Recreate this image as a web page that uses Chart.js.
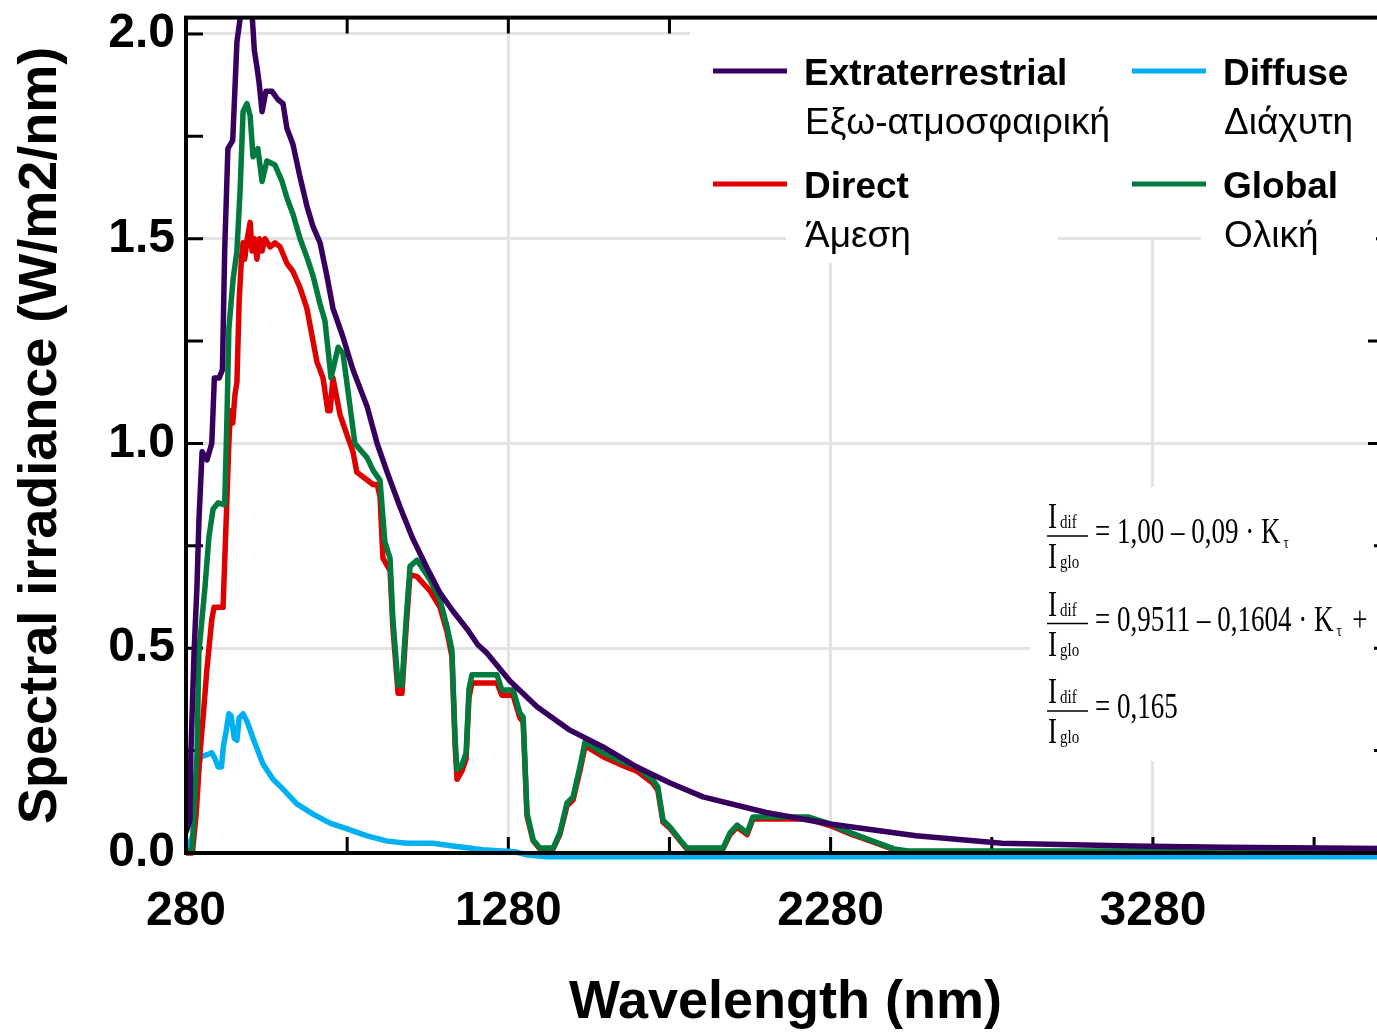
<!DOCTYPE html>
<html>
<head>
<meta charset="utf-8">
<title>Spectral irradiance</title>
<script src="https://cdn.jsdelivr.net/npm/chart.js@4.4.1/dist/chart.umd.min.js"></script>
<style>
  html, body { margin: 0; padding: 0; background: #fff; overflow: hidden; }
  #wrap { position: relative; width: 1390px; height: 1032px; }
</style>
</head>
<body>
<div id="wrap"><canvas id="spectrum-chart"></canvas></div>
<script>
/* Spectral irradiance: extraterrestrial, direct, diffuse, global */

// wavelength (nm) / irradiance (W/m2/nm)
const wlExtra  = [280, 292, 295, 305, 314, 320, 330, 345, 360, 368, 383, 393, 400, 410, 425, 438, 450, 485, 492, 500, 507, 516, 528, 547, 565, 581, 593, 612, 634, 655, 674, 696, 717, 736, 767, 798, 842, 873, 904, 944, 984, 1028, 1068, 1108, 1152, 1186, 1214, 1285, 1369, 1471, 1574, 1679, 1782, 1884, 2080, 2278, 2545, 2812, 3215, 3500, 4000];
const irrExtra = [0.05, 0.08, 0.24, 0.49, 0.65, 0.81, 0.98, 0.96, 1.00, 1.16, 1.16, 1.18, 1.47, 1.72, 1.74, 1.98, 2.05, 2.05, 1.96, 1.92, 1.88, 1.81, 1.86, 1.86, 1.84, 1.83, 1.77, 1.73, 1.65, 1.58, 1.53, 1.49, 1.41, 1.33, 1.26, 1.18, 1.09, 1.00, 0.93, 0.845, 0.767, 0.696, 0.635, 0.591, 0.547, 0.508, 0.488, 0.42, 0.357, 0.30, 0.259, 0.21, 0.171, 0.137, 0.099, 0.071, 0.042, 0.024, 0.017, 0.014, 0.011];

const wlGlobal  = [280, 299, 314, 320, 339, 351, 364, 380, 400, 407, 413, 426, 438, 448, 457, 469, 479, 488, 503, 516, 531, 556, 578, 593, 612, 634, 655, 674, 696, 711, 730, 752, 767, 789, 804, 820, 842, 860, 882, 897, 913, 922, 938, 950, 963, 975, 997, 1037, 1068, 1090, 1105, 1115, 1121, 1136, 1149, 1158, 1167, 1208, 1245, 1260, 1295, 1316, 1326, 1338, 1357, 1378, 1419, 1440, 1462, 1481, 1502, 1518, 1533, 1574, 1636, 1679, 1729, 1744, 1760, 1782, 1813, 1834, 1946, 1968, 1990, 2021, 2039, 2076, 2210, 2278, 2343, 2411, 2477, 2520, 4000];
const irrGlobal = [0.0, 0.01, 0.24, 0.49, 0.65, 0.77, 0.84, 0.855, 0.85, 1.06, 1.28, 1.40, 1.47, 1.62, 1.81, 1.83, 1.80, 1.70, 1.72, 1.64, 1.69, 1.68, 1.64, 1.60, 1.56, 1.50, 1.455, 1.41, 1.34, 1.30, 1.16, 1.235, 1.22, 1.09, 1.00, 0.985, 0.965, 0.935, 0.91, 0.76, 0.72, 0.57, 0.41, 0.41, 0.57, 0.70, 0.715, 0.667, 0.618, 0.552, 0.496, 0.276, 0.203, 0.215, 0.244, 0.40, 0.435, 0.435, 0.435, 0.398, 0.398, 0.342, 0.332, 0.098, 0.032, 0.012, 0.012, 0.049, 0.122, 0.137, 0.21, 0.271, 0.264, 0.244, 0.222, 0.21, 0.178, 0.161, 0.08, 0.063, 0.032, 0.012, 0.012, 0.049, 0.068, 0.049, 0.088, 0.088, 0.088, 0.071, 0.049, 0.029, 0.01, 0.005, 0.005];

const wlDirect  = [280, 300, 312, 323, 333, 345, 360, 367, 395, 405, 413, 418, 425, 432, 438, 445, 452, 457, 462, 470, 479, 485, 492, 500, 508, 516, 525, 541, 556, 572, 593, 612, 634, 655, 674, 686, 705, 720, 727, 736, 758, 780, 798, 810, 860, 873, 882, 891, 913, 922, 938, 950, 963, 975, 997, 1037, 1068, 1090, 1105, 1115, 1121, 1136, 1149, 1158, 1167, 1245, 1260, 1295, 1316, 1326, 1338, 1357, 1378, 1419, 1440, 1462, 1481, 1502, 1518, 1533, 1574, 1636, 1679, 1729, 1744, 1760, 1782, 1813, 1834, 1946, 1968, 1990, 2021, 2039, 2076, 2210, 2278, 2343, 2411, 2477, 2520, 4000];
const irrDirect = [0.0, 0.0, 0.10, 0.24, 0.33, 0.45, 0.57, 0.60, 0.60, 0.82, 1.00, 1.08, 1.05, 1.12, 1.15, 1.35, 1.45, 1.49, 1.45, 1.50, 1.54, 1.47, 1.50, 1.45, 1.50, 1.47, 1.50, 1.48, 1.49, 1.48, 1.44, 1.42, 1.38, 1.33, 1.25, 1.20, 1.16, 1.08, 1.08, 1.16, 1.07, 1.02, 0.98, 0.93, 0.90, 0.90, 0.87, 0.72, 0.69, 0.55, 0.39, 0.39, 0.55, 0.68, 0.675, 0.64, 0.60, 0.54, 0.48, 0.26, 0.18, 0.20, 0.23, 0.38, 0.415, 0.415, 0.385, 0.385, 0.33, 0.32, 0.09, 0.03, 0.01, 0.01, 0.045, 0.115, 0.13, 0.20, 0.26, 0.255, 0.235, 0.213, 0.20, 0.17, 0.153, 0.075, 0.06, 0.03, 0.01, 0.01, 0.045, 0.063, 0.045, 0.083, 0.083, 0.083, 0.067, 0.046, 0.027, 0.008, 0.003, 0.003];

const wlDiffuse  = [280, 305, 318, 325, 345, 360, 370, 380, 390, 396, 405, 413, 420, 430, 438, 445, 457, 470, 488, 519, 550, 581, 624, 674, 727, 780, 842, 904, 966, 1046, 1108, 1200, 1300, 1340, 1400, 4000];
const irrDiffuse = [0.0, 0.05, 0.20, 0.235, 0.24, 0.245, 0.23, 0.21, 0.21, 0.26, 0.30, 0.34, 0.335, 0.28, 0.275, 0.33, 0.34, 0.32, 0.28, 0.217, 0.18, 0.156, 0.12, 0.095, 0.073, 0.059, 0.042, 0.029, 0.024, 0.024, 0.017, 0.008, 0.003, -0.005, -0.009, -0.009];

// axes
const xTicks = [280, 780, 1280, 1780, 2280, 2780, 3280, 3780];
const xMajor = [280, 1280, 2280, 3280];
const yTicks = [0, 0.25, 0.5, 0.75, 1.0, 1.25, 1.5, 1.75, 2.0];
const yMajor = [0, 0.5, 1.0, 1.5, 2.0];

// legend
const seriesNames = ['Extraterrestrial', 'Diffuse', 'Direct', 'Global'];
const seriesGreek = ['Εξω-ατμοσφαιρική', 'Διάχυτη', 'Άμεση', 'Ολική'];
const seriesColors = ['#37005f', '#00b0f0', '#e00000', '#007a3d'];

// inset formulas  I_dif / I_glo = ...
const formulaRhs = ['= 1,00 – 0,09 · K', '= 0,9511 – 0,1604 · K', '= 0,165'];
const formulaTau = [true, true, false];
const formulaTail = ['', ' +', ''];

const SANS = "'Liberation Sans', Arial, sans-serif";
const SERIF = "'Liberation Serif', 'Times New Roman', serif";

// legend box covers the frame ticks up there
const LEGEND_BOX = { left: 690, top: 19, right: 1390, bottom: 237 };

function pts(xs, ys) {
  return xs.map((x, i) => ({ x, y: ys[i] }));
}

function lineSet(label, xs, ys, color) {
  return {
    label,
    data: pts(xs, ys),
    borderColor: color,
    backgroundColor: color,
    borderWidth: 5.5,
    pointRadius: 0,
    tension: 0,
    borderJoinStyle: 'round',
    clip: { left: 0, top: 0, right: 0, bottom: 8 }
  };
}

// inward ticks, then white boxes with legend and formulas over the grid
const insetPlugin = {
  id: 'insets',
  beforeDatasetsDraw(chart) {
    const { ctx, chartArea: a, scales } = chart;
    ctx.save();

    ctx.strokeStyle = '#000';
    ctx.lineWidth = 3;
    ctx.beginPath();
    xTicks.forEach(v => {
      const x = scales.x.getPixelForValue(v);
      ctx.moveTo(x, a.bottom); ctx.lineTo(x, a.bottom - 16);
      ctx.moveTo(x, a.top); ctx.lineTo(x, a.top + 16);
    });
    yTicks.forEach(v => {
      const y = scales.y.getPixelForValue(v);
      ctx.moveTo(a.left, y); ctx.lineTo(a.left + 17, y);
      ctx.moveTo(a.right, y); ctx.lineTo(a.right - 17, y);
    });
    ctx.stroke();

    ctx.fillStyle = '#fff';
    const b = LEGEND_BOX;
    ctx.fillRect(b.left, b.top, b.right - b.left, b.bottom - b.top);
    ctx.fillRect(786, 200, 272, 63);
    ctx.fillRect(1201, 200, 175, 63);
    ctx.fillRect(1030, 487, 344, 274);

    // legend
    const cols = [713, 1132];
    const rows = [71, 184];
    ctx.textAlign = 'left';
    ctx.textBaseline = 'alphabetic';
    seriesNames.forEach((name, i) => {
      const x = cols[i % 2];
      const y = rows[Math.floor(i / 2)];
      ctx.strokeStyle = seriesColors[i];
      ctx.lineWidth = 5;
      ctx.beginPath();
      ctx.moveTo(x, y);
      ctx.lineTo(x + 74, y);
      ctx.stroke();
      ctx.fillStyle = '#000';
      ctx.font = 'bold 37px ' + SANS;
      ctx.fillText(name, x + 91, y + 14);
      ctx.font = '37px ' + SANS;
      ctx.fillText(seriesGreek[i], x + 92, y + 63);
    });

    // formulas
    const txt = (s, x, y, size) => {
      ctx.save();
      ctx.translate(x, y);
      ctx.scale(1, 1.32);
      ctx.font = size + 'px ' + SERIF;
      ctx.fillText(s, 0, 0);
      ctx.restore();
    };
    formulaRhs.forEach((rhs, i) => {
      const bar = 536 + i * 87.5;
      ctx.fillStyle = '#000';
      ctx.strokeStyle = '#000';
      ctx.lineWidth = 1.5;
      ctx.beginPath();
      ctx.moveTo(1047, bar);
      ctx.lineTo(1088, bar);
      ctx.stroke();
      txt('I', 1048, bar - 8, 27);
      txt('dif', 1060, bar - 8, 15);
      txt('I', 1048, bar + 32, 27);
      txt('glo', 1060, bar + 32, 15);
      txt(rhs, 1095, bar + 7, 27);
      ctx.font = '27px ' + SERIF;
      let x = 1095 + ctx.measureText(rhs).width;
      if (formulaTau[i]) {
        txt('τ', x + 3, bar + 12, 13);
        x += 12;
      }
      if (formulaTail[i]) txt(formulaTail[i], x, bar + 7, 27);
    });
    ctx.restore();
  }
};

// black frame on top of everything
const framePlugin = {
  id: 'frame',
  afterDatasetsDraw(chart) {
    const { ctx, chartArea: a } = chart;
    ctx.save();
    ctx.strokeStyle = '#000';
    ctx.lineWidth = 4;
    ctx.strokeRect(a.left, a.top, a.right - a.left, a.bottom - a.top);
    ctx.restore();
  }
};

const isMajor = (list, v) => list.some(m => Math.abs(m - v) < 1e-6);

new Chart(document.getElementById('spectrum-chart'), {
  type: 'line',
  data: {
    datasets: [
      lineSet(seriesNames[0], wlExtra, irrExtra, seriesColors[0]),
      lineSet(seriesNames[3], wlGlobal, irrGlobal, seriesColors[3]),
      lineSet(seriesNames[2], wlDirect, irrDirect, seriesColors[2]),
      lineSet(seriesNames[1], wlDiffuse, irrDiffuse, seriesColors[1])
    ]
  },
  options: {
    responsive: true,
    maintainAspectRatio: false,
    animation: false,
    devicePixelRatio: 1,
    layout: { padding: { top: 17.6, right: 5, left: 0, bottom: 0 } },
    plugins: { legend: { display: false }, tooltip: { enabled: false } },
    scales: {
      x: {
        type: 'linear',
        min: 280,
        max: 4000,
        afterBuildTicks: s => { s.ticks = xTicks.map(v => ({ value: v })); },
        afterFit: s => { s.height = 179; s.paddingLeft = 0; s.paddingRight = 0; },
        border: { display: false },
        grid: {
          drawTicks: false,
          lineWidth: 3,
          color: c => isMajor(xMajor, c.tick.value) ? '#e3e3e3' : 'rgba(0,0,0,0)'
        },
        ticks: {
          autoSkip: false,
          maxRotation: 0,
          padding: 30,
          color: '#000',
          font: { family: SANS, size: 48, weight: 'bold' },
          callback: v => isMajor(xMajor, v) ? String(v) : ''
        },
        title: {
          display: true,
          text: 'Wavelength (nm)',
          color: '#000',
          font: { family: SANS, size: 54, weight: 'bold', lineHeight: 1 },
          padding: { top: 0, bottom: 2 }
        }
      },
      y: {
        min: 0,
        max: 2.04,
        afterBuildTicks: s => { s.ticks = yTicks.map(v => ({ value: v })); },
        afterFit: s => { s.width = 186; s.paddingTop = 0; s.paddingBottom = 0; },
        border: { display: false },
        grid: {
          drawTicks: false,
          lineWidth: 3,
          color: c => isMajor(yMajor, c.tick.value) ? '#e3e3e3' : 'rgba(0,0,0,0)'
        },
        ticks: {
          padding: 11,
          color: '#000',
          font: { family: SANS, size: 48, weight: 'bold' },
          callback: v => isMajor(yMajor, v) ? v.toFixed(1) : ''
        },
        title: {
          display: true,
          text: 'Spectral irradiance (W/m2/nm)',
          color: '#000',
          font: { family: SANS, size: 54, weight: 'bold' },
          padding: { top: 9, bottom: 0 }
        }
      }
    }
  },
  plugins: [insetPlugin, framePlugin]
});
</script>
</body>
</html>
